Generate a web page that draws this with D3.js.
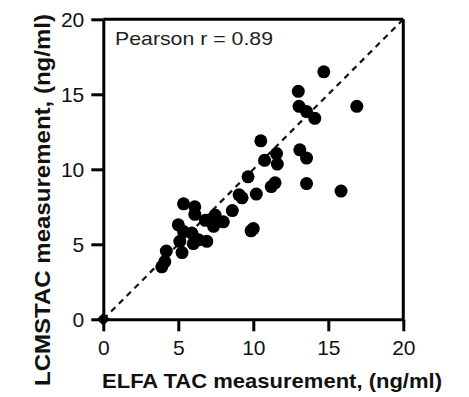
<!DOCTYPE html>
<html>
<head>
<meta charset="utf-8">
<script src="https://cdn.jsdelivr.net/npm/d3@7"></script>
<style>
  body { margin: 0; background: #fff; }
  svg { display: block; }
</style>
</head>
<body>
<svg id="chart" width="469" height="397"></svg>
<script>
// Data (ELFA vs LCMS TAC, ng/ml)
const elfaValues = [14.7, 13.0, 16.9, 13.05, 13.55, 14.1, 10.5, 11.55, 11.6, 10.75, 13.1, 13.55, 13.55, 15.85, 11.45, 11.2, 9.65, 9.05, 9.25, 10.2, 8.6, 10.0, 9.85, 5.35, 6.1, 6.1, 7.45, 8.0, 7.35, 6.8, 5.0, 5.35, 5.9, 6.35, 6.9, 6.0, 5.1, 5.25, 4.2, 4.1, 3.9];
const lcmsValues = [16.5, 15.2, 14.2, 14.2, 13.85, 13.4, 11.9, 11.05, 10.35, 10.6, 11.3, 10.75, 9.05, 8.55, 9.1, 8.85, 9.5, 8.3, 8.1, 8.35, 7.25, 6.05, 5.9, 7.7, 7.5, 7.0, 6.95, 6.5, 6.2, 6.6, 6.3, 5.85, 5.75, 5.3, 5.2, 5.05, 5.2, 4.45, 4.55, 3.85, 3.5];
const originPoint = [0, 0];
const xTicks = [0, 5, 10, 15, 20];
const yTicks = [0, 5, 10, 15, 20];
const identityLine = [[0, 0], [20, 20]];
const annotation = "Pearson r = 0.89";
const xLabel = "ELFA TAC measurement, (ng/ml)";
const yLabel = "LCMSTAC measurement, (ng/ml)";

(function () {
const svg = d3.select("#chart");
const mLeft = 103.3, mRight = 403.3, mTop = 19.3, mBottom = 319.3;
const x = d3.scaleLinear().domain([0, 20]).range([mLeft, mRight]);
const y = d3.scaleLinear().domain([0, 20]).range([mBottom, mTop]);
const font = "'Liberation Sans', Arial, sans-serif";

// identity dashed line
svg.append("line")
  .attr("x1", x(identityLine[0][0])).attr("y1", y(identityLine[0][1]))
  .attr("x2", x(identityLine[1][0])).attr("y2", y(identityLine[1][1]))
  .attr("stroke", "#111").attr("stroke-width", 2.2)
  .attr("stroke-dasharray", "6,5");

// frame top & right
svg.append("line").attr("x1", x(0)).attr("x2", x(20)).attr("y1", y(20)).attr("y2", y(20))
  .attr("stroke", "#000").attr("stroke-width", 3);
svg.append("line").attr("x1", x(20)).attr("x2", x(20)).attr("y1", y(0)).attr("y2", y(20))
  .attr("stroke", "#000").attr("stroke-width", 3);

// axes
const xAxis = svg.append("g").attr("transform", `translate(0,${mBottom})`)
  .call(d3.axisBottom(x).tickValues(xTicks).tickSize(12).tickPadding(9).tickSizeOuter(0));
const yAxis = svg.append("g").attr("transform", `translate(${mLeft},0)`)
  .call(d3.axisLeft(y).tickValues(yTicks).tickSize(12).tickPadding(7).tickSizeOuter(0));
[xAxis, yAxis].forEach(g => {
  g.select(".domain").attr("stroke", "#000").attr("stroke-width", 3);
  g.selectAll(".tick line").attr("stroke", "#000").attr("stroke-width", 3);
  g.selectAll(".tick text").attr("fill", "#111").style("font-family", font).style("font-size", "21px");
});

// points
const pts = elfaValues.map((v, i) => [v, lcmsValues[i]]);
svg.append("g").selectAll("circle").data(pts).join("circle")
  .attr("cx", d => x(d[0])).attr("cy", d => y(d[1])).attr("r", 6.5)
  .attr("fill", "#000");

// origin marker (diamond)
svg.append("path")
  .attr("d", d3.symbol().type(d3.symbolDiamond2).size(110)())
  .attr("transform", `translate(${x(originPoint[0])},${y(originPoint[1])})`)
  .attr("fill", "#000");

// annotation
svg.append("text").attr("x", 115).attr("y", 45)
  .attr("textLength", 158).attr("lengthAdjust", "spacingAndGlyphs")
  .style("font-family", font).style("font-size", "19px").attr("fill", "#222")
  .text(annotation);

// axis titles
svg.append("text").attr("x", 272).attr("y", 388).attr("text-anchor", "middle")
  .attr("textLength", 340).attr("lengthAdjust", "spacingAndGlyphs")
  .style("font-family", font).style("font-size", "21px").style("font-weight", "bold")
  .attr("fill", "#111").text(xLabel);
svg.append("text").attr("transform", "translate(50,200) rotate(-90)").attr("text-anchor", "middle")
  .attr("textLength", 372).attr("lengthAdjust", "spacingAndGlyphs")
  .style("font-family", font).style("font-size", "22px").style("font-weight", "bold")
  .attr("fill", "#111").text(yLabel);
})();
</script>
</body>
</html>
